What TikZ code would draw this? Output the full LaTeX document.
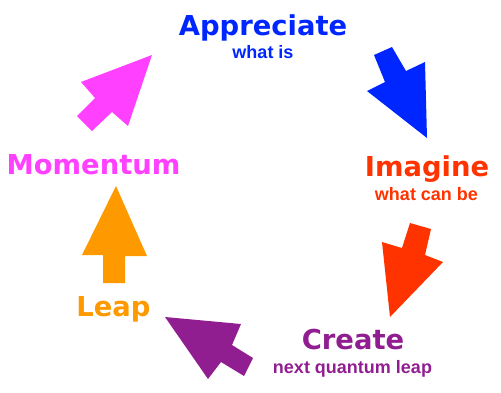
\documentclass[tikz,border=0pt]{standalone}
\usepackage{fontspec}
\newfontfamily\headfont[Scale=1]{DejaVu Sans}
\newfontfamily\subfont{Liberation Sans}
\definecolor{cblue}{RGB}{0,38,255}
\definecolor{cred}{RGB}{255,51,0}
\definecolor{cpurple}{RGB}{145,30,145}
\definecolor{corange}{RGB}{255,153,0}
\definecolor{cmagenta}{RGB}{255,64,255}
\tikzset{
  head/.style={anchor=base, inner sep=0pt, font=\headfont\bfseries\fontsize{27.4}{30}\selectfont},
  sub/.style={anchor=base, inner sep=0pt, font=\subfont\bfseries\fontsize{18}{20}\selectfont},
}
\begin{document}
\begin{tikzpicture}[x=1pt,y=-1pt]
\useasboundingbox (0,0) rectangle (501,392);
% arrows
\fill[cblue] (374,55) -- (392,47) -- (406,71) -- (425,62) -- (427,138) -- (367,91) -- (385,82) -- cycle;
\fill[cred] (410,223) -- (431,229) -- (425,255) -- (443,262) -- (390,317) -- (382,242) -- (402,248) -- cycle;
\fill[cpurple] (165,317) -- (241,324) -- (232,345) -- (253,358) -- (244,376) -- (221,362) -- (208,379) -- cycle;
\fill[corange] (116,186) -- (147,256) -- (125,256) -- (125,283) -- (103,283) -- (103,255) -- (82,255) -- cycle;
\fill[cmagenta] (152,55) -- (128,126) -- (112,112) -- (92,131) -- (77,116) -- (95,98) -- (81,82) -- cycle;
% texts
\node[head, text=cblue] (appr) at (263,35) {Appreciate};
\node[sub, text=cblue] (apprs) at (263,58) {what is};
\node[head, text=cred] (imag) at (427,176) {Imagine};
\node[sub, text=cred] (imags) at (426.5,200) {what can be};
\node[head, text=cpurple] (crea) at (353,349) {Create};
\node[sub, text=cpurple] (creas) at (352.5,373) {next quantum leap};
\node[head, text=corange] (leap) at (113.5,316) {Leap};
\node[head, text=cmagenta] (mome) at (93.5,174) {Momentum};
\end{tikzpicture}
\end{document}
